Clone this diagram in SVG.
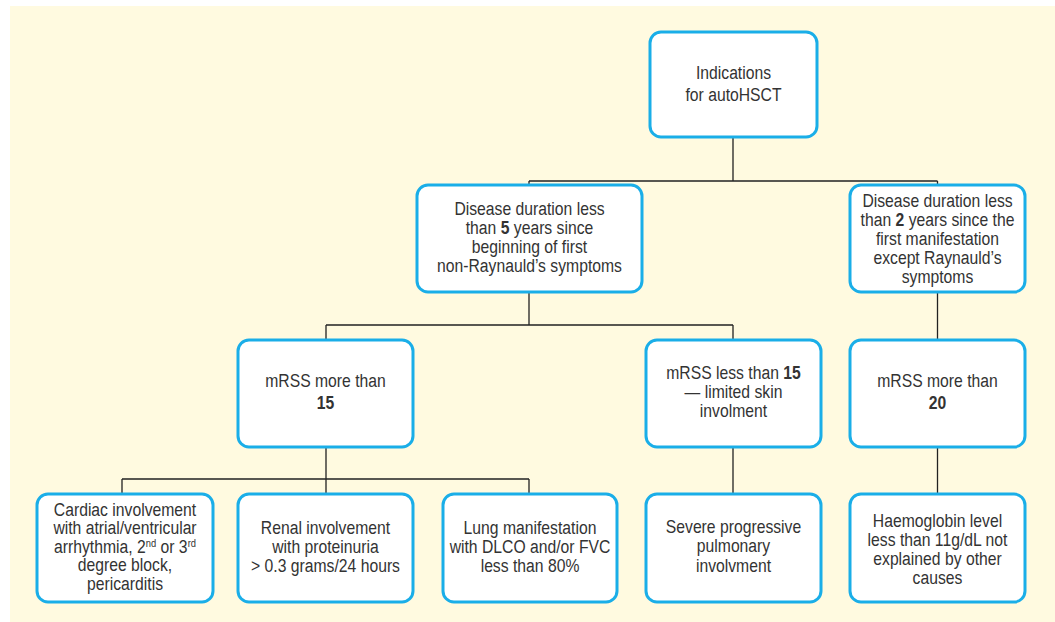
<svg xmlns="http://www.w3.org/2000/svg" width="1055" height="622" viewBox="0 0 1055 622">
<style>
.box{fill:#ffffff;stroke:#1aaee8;stroke-width:3}
.t{font-family:"Liberation Sans",Arial,sans-serif;font-size:18.5px;fill:#333333;text-anchor:middle}
.b{font-weight:bold}
.c{fill:none;stroke:#222222;stroke-width:1.3}
.sup{font-size:11px}
</style>
<rect x="10" y="6" width="1045" height="616" fill="#fffae0"/>
<g id="connectors">
<path class="c" d="M733,137 V181 M529,181 H937.5 M529,181 V185 M937.5,181 V185"/>
<path class="c" d="M529,292 V325 M326,325 H733 M326,325 V340 M733,325 V340"/>
<path class="c" d="M937.5,292 V340"/>
<path class="c" d="M326,447 V479 M122,479 H529 M122,479 V494 M326,479 V494 M529,479 V494"/>
<path class="c" d="M733,447 V494"/>
<path class="c" d="M937.5,447 V494"/>
</g>
<g id="root">
<rect class="box" x="650" y="32" width="167" height="105" rx="11"/>
<g transform="translate(733.5,0) scale(0.85,1)">
<text class="t" x="0" y="79">Indications</text>
<text class="t" x="0" y="101">for autoHSCT</text>
</g>
</g>
<g id="dur5">
<rect class="box" x="417" y="185" width="225" height="107" rx="11"/>
<g transform="translate(529.5,0) scale(0.85,1)">
<text class="t" x="0" y="215">Disease duration less</text>
<text class="t" x="0" y="234">than <tspan class="b">5</tspan> years since</text>
<text class="t" x="0" y="253">beginning of first</text>
<text class="t" x="0" y="272">non-Raynauld’s symptoms</text>
</g>
</g>
<g id="dur2">
<rect class="box" x="850" y="185" width="175" height="107" rx="11"/>
<g transform="translate(937.5,0) scale(0.85,1)">
<text class="t" x="0" y="207">Disease duration less</text>
<text class="t" x="0" y="226">than <tspan class="b">2</tspan> years since the</text>
<text class="t" x="0" y="245">first manifestation</text>
<text class="t" x="0" y="264">except Raynauld’s</text>
<text class="t" x="0" y="283">symptoms</text>
</g>
</g>
<g id="mrss15more">
<rect class="box" x="238" y="340" width="175" height="107" rx="11"/>
<g transform="translate(325.5,0) scale(0.85,1)">
<text class="t" x="0" y="387">mRSS more than</text>
<text class="t b" x="0" y="409">15</text>
</g>
</g>
<g id="mrss15less">
<rect class="box" x="646" y="340" width="175" height="107" rx="11"/>
<g transform="translate(733.5,0) scale(0.85,1)">
<text class="t" x="0" y="379">mRSS less than <tspan class="b">15</tspan></text>
<text class="t" x="0" y="398">— limited skin</text>
<text class="t" x="0" y="417">involment</text>
</g>
</g>
<g id="mrss20">
<rect class="box" x="850" y="340" width="175" height="107" rx="11"/>
<g transform="translate(937.5,0) scale(0.85,1)">
<text class="t" x="0" y="387">mRSS more than</text>
<text class="t b" x="0" y="409">20</text>
</g>
</g>
<g id="cardiac">
<rect class="box" x="37" y="494" width="176" height="108" rx="11"/>
<g transform="translate(125,0) scale(0.85,1)">
<text class="t" x="0" y="516">Cardiac involvement</text>
<text class="t" x="0" y="534.5">with atrial/ventricular</text>
<text class="t" x="0" y="553">arrhythmia, 2<tspan class="sup" dy="-6">nd</tspan><tspan dy="6"> or 3</tspan><tspan class="sup" dy="-6">rd</tspan></text>
<text class="t" x="0" y="571.5">degree block,</text>
<text class="t" x="0" y="590">pericarditis</text>
</g>
</g>
<g id="renal">
<rect class="box" x="238" y="494" width="175" height="108" rx="11"/>
<g transform="translate(325.5,0) scale(0.85,1)">
<text class="t" x="0" y="534">Renal involvement</text>
<text class="t" x="0" y="553">with proteinuria</text>
<text class="t" x="0" y="572">&gt; 0.3 grams/24 hours</text>
</g>
</g>
<g id="lung">
<rect class="box" x="443" y="494" width="174" height="108" rx="11"/>
<g transform="translate(530,0) scale(0.85,1)">
<text class="t" x="0" y="534">Lung manifestation</text>
<text class="t" x="0" y="553">with DLCO and/or FVC</text>
<text class="t" x="0" y="572">less than 80%</text>
</g>
</g>
<g id="pulmonary">
<rect class="box" x="646" y="494" width="175" height="108" rx="11"/>
<g transform="translate(733.5,0) scale(0.85,1)">
<text class="t" x="0" y="533">Severe progressive</text>
<text class="t" x="0" y="552.5">pulmonary</text>
<text class="t" x="0" y="572">involvment</text>
</g>
</g>
<g id="haemoglobin">
<rect class="box" x="850" y="494" width="175" height="108" rx="11"/>
<g transform="translate(937.5,0) scale(0.85,1)">
<text class="t" x="0" y="527">Haemoglobin level</text>
<text class="t" x="0" y="546">less than 11g/dL not</text>
<text class="t" x="0" y="565">explained by other</text>
<text class="t" x="0" y="584">causes</text>
</g>
</g>
</svg>
